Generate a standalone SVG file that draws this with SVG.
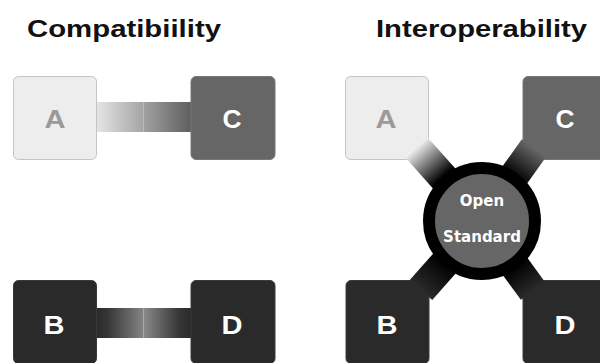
<svg xmlns="http://www.w3.org/2000/svg" width="600" height="363" viewBox="0 0 600 363">
  <style>
    .title { font-family: "Liberation Sans", Arial, sans-serif; font-weight: bold; font-size: 24px; fill: #111; }
    .letter { font-family: "Liberation Sans", Arial, sans-serif; font-weight: bold; font-size: 25px; text-anchor: middle; }
    .light { fill: #ededed; stroke: #c4c4c4; stroke-width: 1; }
    .mid { fill: #666666; stroke: #777777; stroke-width: 1; }
    .dark { fill: #2a2a2a; stroke: #3a3a3a; stroke-width: 1; }
    .on-light { fill: #9a9a9a; }
    .on-dark { fill: #ffffff; }
    .hub-text { font-family: "DejaVu Sans", Verdana, sans-serif; font-weight: bold; font-size: 15px; fill: #ffffff; text-anchor: middle; }
    .seam { stroke-width: 1; }
  </style>
  <defs>
    <linearGradient id="acLeft" x1="0" y1="0" x2="1" y2="0">
      <stop offset="0" stop-color="#e6e6e6"/>
      <stop offset="1" stop-color="#a4a4a4"/>
    </linearGradient>
    <linearGradient id="acRight" x1="0" y1="0" x2="1" y2="0">
      <stop offset="0" stop-color="#a2a2a2"/>
      <stop offset="1" stop-color="#5e5e5e"/>
    </linearGradient>
    <linearGradient id="bdLeft" x1="0" y1="0" x2="1" y2="0">
      <stop offset="0" stop-color="#2a2a2a"/>
      <stop offset="0.25" stop-color="#363636"/>
      <stop offset="1" stop-color="#858585"/>
    </linearGradient>
    <linearGradient id="bdRight" x1="0" y1="0" x2="1" y2="0">
      <stop offset="0" stop-color="#8a8a8a"/>
      <stop offset="0.75" stop-color="#363636"/>
      <stop offset="1" stop-color="#2a2a2a"/>
    </linearGradient>
    <linearGradient id="spokeA" gradientUnits="userSpaceOnUse" x1="417" y1="148" x2="443" y2="177">
      <stop offset="0" stop-color="#e8e8e8"/>
      <stop offset="1" stop-color="#000000"/>
    </linearGradient>
    <linearGradient id="spokeC" gradientUnits="userSpaceOnUse" x1="534" y1="148" x2="516" y2="173">
      <stop offset="0" stop-color="#666666"/>
      <stop offset="1" stop-color="#0e0e0e"/>
    </linearGradient>
    <linearGradient id="spokeB" gradientUnits="userSpaceOnUse" x1="421" y1="290" x2="443" y2="265">
      <stop offset="0" stop-color="#2a2a2a"/>
      <stop offset="1" stop-color="#050505"/>
    </linearGradient>
    <linearGradient id="spokeD" gradientUnits="userSpaceOnUse" x1="533" y1="291" x2="517" y2="269">
      <stop offset="0" stop-color="#2a2a2a"/>
      <stop offset="1" stop-color="#050505"/>
    </linearGradient>
  </defs>

  <!-- headings -->
  <text class="title" x="27" y="37" textLength="194" lengthAdjust="spacingAndGlyphs">Compatibiility</text>
  <text class="title" x="376" y="37" textLength="211" lengthAdjust="spacingAndGlyphs">Interoperability</text>

  <!-- point-to-point links -->
  <g id="connectors">
    <rect x="96" y="102" width="47.5" height="30" fill="url(#acLeft)"/>
    <rect x="143.5" y="102" width="47.5" height="30" fill="url(#acRight)"/>
    <line class="seam" x1="143.5" y1="102" x2="143.5" y2="132" stroke="#bcbcbc"/>
    <rect x="96" y="308" width="47.5" height="30" fill="url(#bdLeft)"/>
    <rect x="143.5" y="308" width="47.5" height="30" fill="url(#bdRight)"/>
    <line class="seam" x1="143.5" y1="308" x2="143.5" y2="338" stroke="#a8a8a8"/>
  </g>

  <!-- left side: direct pairs -->
  <g id="compat-a">
    <rect class="light" x="13.5" y="76.5" width="83" height="83" rx="5"/>
    <text class="letter on-light" x="55" y="128" textLength="21" lengthAdjust="spacingAndGlyphs">A</text>
  </g>
  <g id="compat-c">
    <rect class="mid" x="191" y="76.5" width="84" height="83" rx="5"/>
    <text class="letter on-dark" x="232" y="128" textLength="19" lengthAdjust="spacingAndGlyphs">C</text>
  </g>
  <g id="compat-b">
    <rect class="dark" x="13.5" y="280.5" width="83" height="83" rx="5"/>
    <text class="letter on-dark" x="54" y="334" textLength="21" lengthAdjust="spacingAndGlyphs">B</text>
  </g>
  <g id="compat-d">
    <rect class="dark" x="191" y="280.5" width="84" height="83" rx="5"/>
    <text class="letter on-dark" x="232" y="334" textLength="21" lengthAdjust="spacingAndGlyphs">D</text>
  </g>

  <!-- right side: every system through the open standard -->
  <g id="interop-a">
    <rect class="light" x="345.5" y="76.5" width="83" height="83" rx="5"/>
    <text class="letter on-light" x="386" y="128" textLength="21" lengthAdjust="spacingAndGlyphs">A</text>
  </g>
  <g id="interop-c">
    <rect class="mid" x="523" y="76.5" width="84" height="83" rx="5"/>
    <text class="letter on-dark" x="565" y="128" textLength="19" lengthAdjust="spacingAndGlyphs">C</text>
  </g>
  <g id="interop-b">
    <rect class="dark" x="346" y="280.5" width="83" height="83" rx="5"/>
    <text class="letter on-dark" x="387" y="334" textLength="21" lengthAdjust="spacingAndGlyphs">B</text>
  </g>
  <g id="interop-d">
    <rect class="dark" x="523" y="280.5" width="84" height="83" rx="5"/>
    <text class="letter on-dark" x="565" y="334" textLength="21" lengthAdjust="spacingAndGlyphs">D</text>
  </g>

  <g id="spokes">
    <line x1="417" y1="148" x2="482" y2="221" stroke="url(#spokeA)" stroke-width="30"/>
    <line x1="534" y1="148" x2="482" y2="221" stroke="url(#spokeC)" stroke-width="30"/>
    <line x1="421" y1="290" x2="482" y2="221" stroke="url(#spokeB)" stroke-width="30"/>
    <line x1="533" y1="291" x2="482" y2="221" stroke="url(#spokeD)" stroke-width="30"/>
  </g>

  <g id="open-standard">
    <circle cx="482" cy="221" r="53" fill="#666666" stroke="#000000" stroke-width="12"/>
    <text class="hub-text" x="482" y="206">Open</text>
    <text class="hub-text" x="482" y="242">Standard</text>
  </g>
</svg>
